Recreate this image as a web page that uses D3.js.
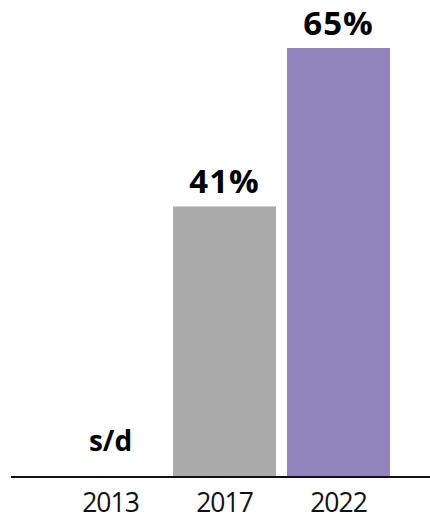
<!DOCTYPE html>
<html>
<head>
<meta charset="utf-8">
<script src="https://cdn.jsdelivr.net/npm/d3@7"></script>
<style>
  html, body { margin: 0; padding: 0; background: #fff; }
  svg { display: block; }
</style>
</head>
<body>
<svg id="chart" width="430" height="519"></svg>
<script>
const years = ["2013", "2017", "2022"];
const values = [null, 41, 65];
const valueLabels = ["s/d", "41%", "65%"];
const barColors = ["#aaabaa", "#aaabaa", "#9183bb"];

const svg = d3.select("#chart");
const W = 430, H = 519;

const x = d3.scaleBand()
  .domain(years)
  .range([53.5, 395.5])
  .paddingInner(0.0965)
  .paddingOuter(0.0482);

const y = d3.scaleLinear()
  .domain([0, 65])
  .range([477, 48]);

const data = years.map((yr, i) => ({ year: yr, value: values[i], label: valueLabels[i], color: barColors[i] }));

// bars
svg.append("g").selectAll("rect")
  .data(data.filter(d => d.value != null))
  .join("rect")
  .attr("x", d => x(d.year))
  .attr("y", d => y(d.value))
  .attr("width", x.bandwidth())
  .attr("height", d => y(0) - y(d.value))
  .attr("fill", d => d.color);

// baseline axis
const axis = d3.axisBottom(x).tickSize(0).tickPadding(0);
const gAxis = svg.append("g")
  .attr("transform", `translate(0,${y(0)})`)
  .call(axis);
gAxis.select(".domain").remove();
gAxis.append("line")
  .attr("x1", 11).attr("x2", W)
  .attr("y1", 0).attr("y2", 0)
  .attr("stroke", "#111").attr("stroke-width", 2);
gAxis.selectAll(".tick text")
  .attr("y", 35)
  .attr("dy", 0)
  .attr("fill", "#111")
  .style("font-family", "'Open Sans', sans-serif")
  .style("font-size", "26.5px")
  .style("font-weight", 400)
  .style("letter-spacing", "-1px");

// value labels
svg.append("g").selectAll("text")
  .data(data)
  .join("text")
  .attr("x", d => x(d.year) + x.bandwidth() / 2)
  .attr("y", d => d.value == null ? y(0) - 26 : y(d.value) - 13)
  .attr("text-anchor", "middle")
  .attr("fill", "#000")
  .style("font-family", "'Open Sans', sans-serif")
  .style("font-weight", 700)
  .style("font-size", d => d.value == null ? "28px" : "33px")
  .style("letter-spacing", d => d.value == null ? "0px" : "1px")
  .text(d => d.label);
</script>
</body>
</html>
